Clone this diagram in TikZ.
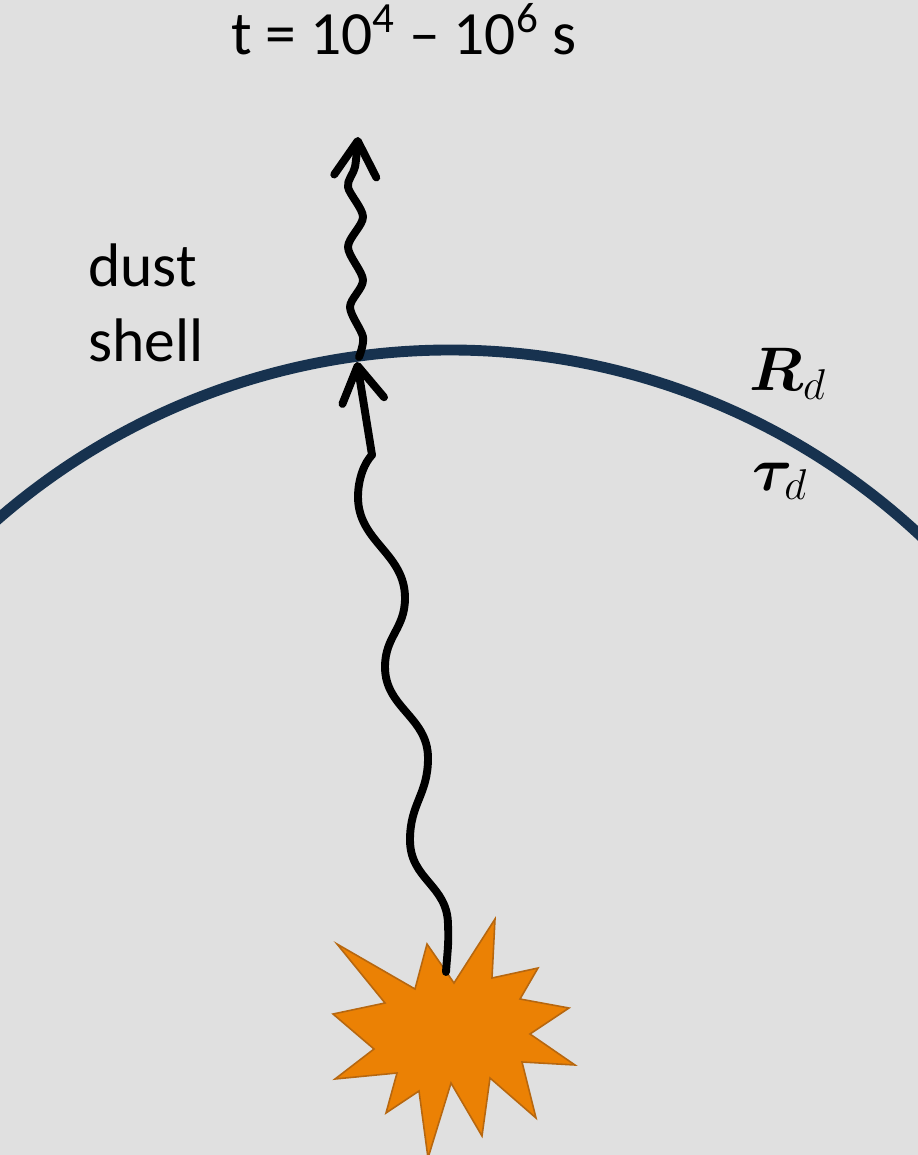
\documentclass[tikz,border=0pt]{standalone}
\usepackage{fix-cm}
\usepackage{fontspec}
\setmainfont{Carlito}
\usepackage{bm}
\usetikzlibrary{arrows.meta}

\definecolor{bggray}{HTML}{E0E0E0}
\definecolor{shellblue}{HTML}{17324F}
\definecolor{burst}{HTML}{EB8104}
\definecolor{burstedge}{HTML}{B7670F}

\tikzset{
  bigtext/.style={font=\fontsize{35}{42}\selectfont, inner sep=0pt},
  photon/.style={line width=4.5pt, line cap=round, line join=round},
  barb/.style={-{Straight Barb[length=20pt,width=24pt,round]}}
}

\begin{document}
\begin{tikzpicture}[x=0.02cm,y=-0.02cm]
\fill[bggray] (0,0) rectangle (918,1155);
\useasboundingbox (0,0) rectangle (918,1155);
% Shell
\coordinate (centre) at (450,1039);
\begin{scope}
\clip (0,0) rectangle (918,1155);
\draw[shellblue, line width=6.2pt] (centre) ++(222:689) arc[start angle=222, end angle=318, radius=689];
\end{scope}
% Burst
\draw[burstedge, fill=burst, line width=0.9pt, line join=miter]
  (427,944) -- (454,983) -- (495,919) -- (492,978) -- (538,968) -- (520,999)
  -- (569,1008) -- (530,1034) -- (575,1065) -- (522,1062) -- (536,1118) -- (490,1078)
  -- (482,1136) -- (451,1083) -- (428,1158) -- (419,1091) -- (386,1113) -- (397,1073)
  -- (335,1079) -- (374,1049) -- (333,1014) -- (385,1003) -- (337,944) -- (415,989) -- cycle;
% Photon, wiggling up from the burst
\coordinate (emit) at (446,972);
\coordinate (kink) at (372,455);
\draw[photon] (emit) .. controls (447,955) and (449,945) .. (448,925)
  .. controls (448,885) and (410,880) .. (410,840)
  .. controls (410,803) and (428,795) .. (428,758)
  .. controls (428,717) and (385,708) .. (385,667)
  .. controls (385,636) and (405,629) .. (405,598)
  .. controls (405,553) and (358,542) .. (358,497)
  .. controls (358,478) and (365,462) .. (kink);
\coordinate (hit) at (357,362);
\draw[photon, barb] (kink) -- (hit);
\draw[photon, barb] plot[smooth] coordinates {(359,357) (363,337) (350,307) (363,280)
  (348,247) (363,217) (348,187) (355,167) (358,137)};
% Labels
\node[bigtext, anchor=base] (time) at (404,55) {t = 10\textsuperscript{4} – 10\textsuperscript{6} s};
\node[bigtext, anchor=base west] (dust) at (88,287) {dust};
\node[bigtext, anchor=base west] (shell) at (88,361) {shell};
\node[bigtext, anchor=base west] (radius) at (749,390) {$\bm{R}_d$};
\node[bigtext, anchor=base west] (depth) at (752,490) {$\bm{\tau}_d$};
\end{tikzpicture}
\end{document}
